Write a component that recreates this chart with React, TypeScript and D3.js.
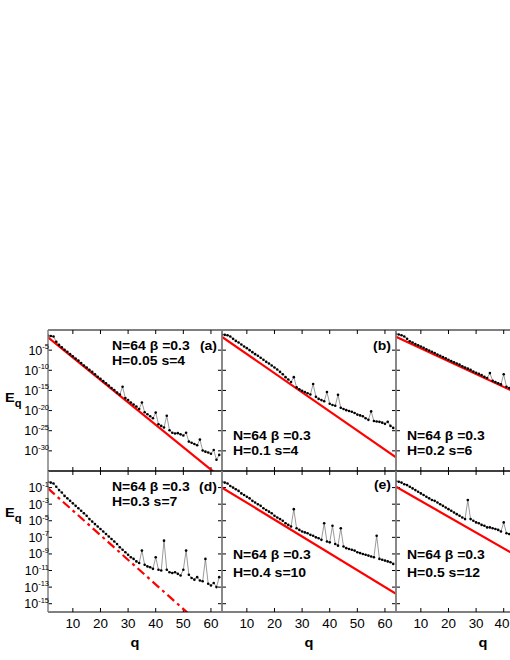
import React from 'react';
import * as d3 from 'd3';

// ---------- data (log10 of E_q, q = 1,2,3,...) ----------
const Q_TICKS = [10, 20, 30, 40, 50, 60];
const TOP_Y_TICKS = [-5, -10, -15, -20, -25, -30];
const BOT_Y_TICKS = [-1, -3, -5, -7, -9, -11, -13, -15];

const logEa = [-1.4, -1.5, -1.6, -2.9, -3.7, -4.3, -4.9, -5.4, -6.0, -6.5, -7.1, -7.6, -8.2, -8.8, -9.3, -9.9, -10.4, -11.0, -11.6, -12.1, -12.7, -13.2, -13.8, -14.4, -14.9, -15.5, -16.0, -14.1, -16.9, -17.4, -18.0, -18.5, -19.0, -19.6, -18.0, -20.4, -20.9, -21.4, -21.9, -20.5, -23.4, -23.8, -24.2, -21.3, -24.9, -25.5, -25.7, -25.6, -25.9, -26.2, -25.5, -27.7, -28.0, -28.3, -28.6, -27.2, -29.9, -30.2, -30.4, -30.7, -29.8, -32.2, -31.0];
const logEb = [-1.1, -1.2, -1.3, -1.6, -2.2, -2.7, -3.1, -3.6, -4.1, -4.5, -5.0, -5.5, -6.0, -6.4, -6.9, -7.4, -7.9, -8.3, -8.8, -9.3, -9.8, -10.4, -11.0, -11.7, -12.3, -12.9, -11.7, -14.2, -14.7, -15.1, -15.4, -15.7, -16.0, -13.4, -16.6, -17.1, -17.4, -17.7, -15.4, -18.3, -18.6, -18.8, -16.1, -19.3, -19.6, -19.9, -20.1, -20.3, -20.6, -21.0, -21.2, -21.4, -21.9, -22.3, -20.2, -22.6, -22.7, -22.8, -23.0, -23.3, -22.8, -23.8, -24.3];
const logEc = [-1.0, -1.1, -1.3, -1.6, -2.2, -2.8, -3.1, -3.5, -3.8, -4.1, -4.4, -4.8, -5.1, -5.4, -5.7, -6.1, -6.4, -6.7, -7.0, -7.4, -7.7, -8.0, -8.3, -8.6, -9.0, -9.3, -9.6, -9.9, -10.3, -10.6, -10.9, -11.2, -11.6, -11.9, -10.7, -12.6, -12.9, -13.2, -13.5, -11.0, -14.1, -14.4, -14.8];
const logEd = [-0.3, -0.4, -0.5, -0.9, -1.3, -1.6, -2.0, -2.3, -2.6, -2.9, -3.2, -3.5, -3.8, -4.1, -4.4, -4.8, -5.1, -5.4, -5.7, -6.0, -6.3, -6.6, -6.9, -7.2, -7.5, -7.8, -8.2, -8.5, -8.8, -9.1, -9.4, -9.6, -9.9, -10.1, -8.6, -10.3, -10.5, -10.6, -10.8, -9.4, -10.9, -11.0, -7.4, -10.9, -11.2, -11.3, -11.2, -11.4, -11.6, -10.9, -8.6, -11.5, -11.9, -12.1, -11.8, -12.2, -12.3, -9.6, -12.6, -12.8, -12.5, -13.0, -11.8];
const logEe = [-0.3, -0.4, -0.5, -0.8, -1.0, -1.2, -1.4, -1.7, -1.9, -2.1, -2.3, -2.6, -2.8, -3.0, -3.2, -3.5, -3.7, -3.9, -4.1, -4.4, -4.6, -4.8, -5.0, -5.3, -5.5, -5.7, -3.6, -5.9, -6.1, -6.3, -6.4, -6.5, -6.7, -6.8, -7.0, -7.1, -7.3, -5.3, -7.5, -7.6, -5.6, -7.8, -8.0, -5.9, -8.1, -8.3, -8.4, -8.5, -8.6, -8.8, -8.9, -9.0, -9.1, -9.2, -9.3, -9.4, -6.8, -9.6, -9.7, -9.8, -9.9, -10.0, -10.2];
const logEf = [-0.2, -0.3, -0.4, -0.6, -0.7, -0.9, -1.1, -1.3, -1.5, -1.7, -1.9, -2.1, -2.3, -2.5, -2.6, -2.8, -3.0, -3.2, -3.4, -3.6, -3.8, -4.0, -4.2, -4.4, -4.6, -4.8, -2.5, -4.8, -5.0, -5.2, -5.3, -5.5, -5.6, -5.8, -5.8, -5.9, -6.0, -6.1, -6.3, -5.2, -6.5, -6.6, -6.8];

// red fit lines: [q, log10 E] end points
const fitA = [[1, -1.8], [64, -36.9]];
const fitB = [[1, -1.7], [64, -31.6]];
const fitC = [[1, -1.66], [64, -21.8]];
const fitD = [[1, -1.1], [64, -19.8]];
const fitE = [[1, -1.0], [64, -13.8]];
const fitF = [[1, -0.9], [64, -12.9]];

const TAGS = ['(a)', '(b)', '(c)', '(d)', '(e)', '(f)'];
const H_VALS = ['0.05', '0.1', '0.2', '0.3', '0.4', '0.5'];
const S_VALS = ['4', '4', '6', '7', '10', '12'];

// ---------- layout ----------
const PW = 174;
const PH = 141;
const COLX = [48, 222, 396];
const ROWY = [330, 471];
const SX = 1.12;
const FONT = "'Liberation Sans', Arial, Helvetica, sans-serif";
const VIEW_W = 510;

type Panel = {
  col: number; row: number; data: number[]; fit: number[][]; dashed: boolean;
  tag: string; hv: string; sv: string;
  textPos: 'top' | 'bottom'; showTag: boolean;
};

const panels: Panel[] = [
  { col: 0, row: 0, data: logEa, fit: fitA, dashed: false, tag: TAGS[0], hv: H_VALS[0], sv: S_VALS[0], textPos: 'top', showTag: true },
  { col: 1, row: 0, data: logEb, fit: fitB, dashed: false, tag: TAGS[1], hv: H_VALS[1], sv: S_VALS[1], textPos: 'bottom', showTag: true },
  { col: 2, row: 0, data: logEc, fit: fitC, dashed: false, tag: TAGS[2], hv: H_VALS[2], sv: S_VALS[2], textPos: 'bottom', showTag: false },
  { col: 0, row: 1, data: logEd, fit: fitD, dashed: true, tag: TAGS[3], hv: H_VALS[3], sv: S_VALS[3], textPos: 'top', showTag: true },
  { col: 1, row: 1, data: logEe, fit: fitE, dashed: false, tag: TAGS[4], hv: H_VALS[4], sv: S_VALS[4], textPos: 'bottom', showTag: true },
  { col: 2, row: 1, data: logEf, fit: fitF, dashed: false, tag: TAGS[5], hv: H_VALS[5], sv: S_VALS[5], textPos: 'bottom', showTag: false },
];

function T(props: { x: number; y: number; size: number; bold?: boolean; anchor?: string; children: any }) {
  const { x, y, size, bold, anchor, children } = props;
  return (
    <text
      transform={`translate(${x},${y}) scale(${SX},1)`}
      fontFamily={FONT}
      fontSize={size}
      fontWeight={bold ? 'bold' : 'normal'}
      textAnchor={anchor || 'start'}
      fill="#000"
    >
      {children}
    </text>
  );
}

function PanelView({ p, idx }: { p: Panel; idx: number }) {
  const x0 = COLX[p.col];
  const y0 = ROWY[p.row];
  const xs = d3.scaleLinear().domain([1, 64]).range([x0, x0 + PW]);
  const ys = p.row === 0
    ? d3.scaleLog().domain([1e-35, 1]).range([y0 + PH, y0])
    : d3.scaleLog().domain([1e-16, 10]).range([y0 + PH, y0]);
  const pts = p.data.map((v, i) => ({ q: i + 1, e: Math.pow(10, v) }));
  const line = d3.line<{ q: number; e: number }>().x(d => xs(d.q)).y(d => ys(d.e));
  const fitPts = p.fit.map(f => ({ q: f[0], e: Math.pow(10, f[1]) }));
  const yTicks = p.row === 0 ? TOP_Y_TICKS : BOT_Y_TICKS;
  const clipId = `clip${idx}`;
  const tl = 4;
  const tx = x0 + 11;
  let l1y: number, l2y: number;
  if (p.textPos === 'top') { l1y = y0 + 20; l2y = y0 + 35; }
  else if (p.row === 0) { l1y = y0 + 110; l2y = y0 + 125; }
  else { l1y = y0 + 88; l2y = y0 + 106; }
  const visibleQ = Q_TICKS.filter(q => xs(q) < VIEW_W - 4);
  return (
    <g>
      <defs>
        <clipPath id={clipId}>
          <rect x={x0} y={y0} width={PW} height={PH} />
        </clipPath>
      </defs>
      {/* ticks */}
      {Q_TICKS.map(q => (
        <g key={'xt' + q}>
          <line x1={xs(q)} x2={xs(q)} y1={y0} y2={y0 + tl} stroke="#000" strokeWidth={1} />
          <line x1={xs(q)} x2={xs(q)} y1={y0 + PH} y2={y0 + PH - tl} stroke="#000" strokeWidth={1} />
        </g>
      ))}
      {yTicks.map(t => (
        <g key={'yt' + t}>
          <line x1={x0} x2={x0 + tl} y1={ys(Math.pow(10, t))} y2={ys(Math.pow(10, t))} stroke="#000" strokeWidth={1} />
          <line x1={x0 + PW} x2={x0 + PW - tl} y1={ys(Math.pow(10, t))} y2={ys(Math.pow(10, t))} stroke="#000" strokeWidth={1} />
        </g>
      ))}
      <g clipPath={`url(#${clipId})`}>
        <path d={line(fitPts) || ''} fill="none" stroke="#ff0000" strokeWidth={2.2}
          strokeDasharray={p.dashed ? '9,4,3,4' : undefined} />
        <path d={line(pts) || ''} fill="none" stroke="#555" strokeWidth={0.6} />
        {pts.map(d => (
          <circle key={d.q} cx={xs(d.q)} cy={ys(d.e)} r={1.3} fill="#000" />
        ))}
      </g>
      {/* frame */}
      <line x1={x0} x2={x0 + PW} y1={y0} y2={y0} stroke="#000" strokeWidth={1} />
      <line x1={x0} x2={x0 + PW} y1={y0 + PH} y2={y0 + PH} stroke="#000" strokeWidth={1} />
      <line x1={x0} x2={x0} y1={y0} y2={y0 + PH} stroke="#808080" strokeWidth={1.5} />
      <line x1={x0 + PW} x2={x0 + PW} y1={y0} y2={y0 + PH} stroke="#808080" strokeWidth={1.5} />
      {/* annotations */}
      <T x={tx + (p.textPos === 'top' ? 53 : 0)} y={l1y} size={12.5} bold>
        {'N=64 \u03B2 =0.3'}
      </T>
      <T x={tx + (p.textPos === 'top' ? 53 : 0)} y={l2y} size={12.5} bold>
        {`H=${p.hv} s=${p.sv}`}
      </T>
      {p.showTag && (
        <T x={x0 + PW - 5} y={p.textPos === 'top' ? l1y : y0 + (p.row === 0 ? 20 : 18)} size={12.5} bold anchor="end">
          {p.tag}
        </T>
      )}
      {/* y tick labels on left column */}
      {p.col === 0 && yTicks.map(t => (
        <text key={'yl' + t} x={x0 + 1} y={ys(Math.pow(10, t)) + 4.5}
          fontFamily={FONT} fontSize={12.5} textAnchor="end">
          <tspan>10</tspan>
          <tspan fontSize={7.5} dy={-5.5}>{String(t)}</tspan>
        </text>
      ))}
      {p.col === 0 && (
        <text transform={`translate(5,${y0 + (p.row === 0 ? 72 : 46)}) scale(${SX},1)`} fontFamily={FONT} fontWeight="bold" fontSize={13}>
          <tspan>E</tspan>
          <tspan fontSize={10} dy={5}>q</tspan>
        </text>
      )}
      {/* x tick labels on bottom row */}
      {p.row === 1 && visibleQ.map(q => (
        <T key={'xl' + q} x={Math.min(xs(q), VIEW_W - 8)} y={y0 + PH + 16} size={12} anchor="middle">{String(q)}</T>
      ))}
      {p.row === 1 && (
        <T x={Math.min(x0 + PW / 2, 483)} y={y0 + PH + 35} size={13} bold anchor="middle">q</T>
      )}
    </g>
  );
}

export default function App() {
  return (
    <svg width={510} height={660} style={{ position: 'absolute', left: 0, top: 0, background: '#fff' }}>
      <rect x={0} y={0} width={510} height={660} fill="#fff" />
      {panels.map((p, i) => <PanelView key={i} p={p} idx={i} />)}
    </svg>
  );
}
